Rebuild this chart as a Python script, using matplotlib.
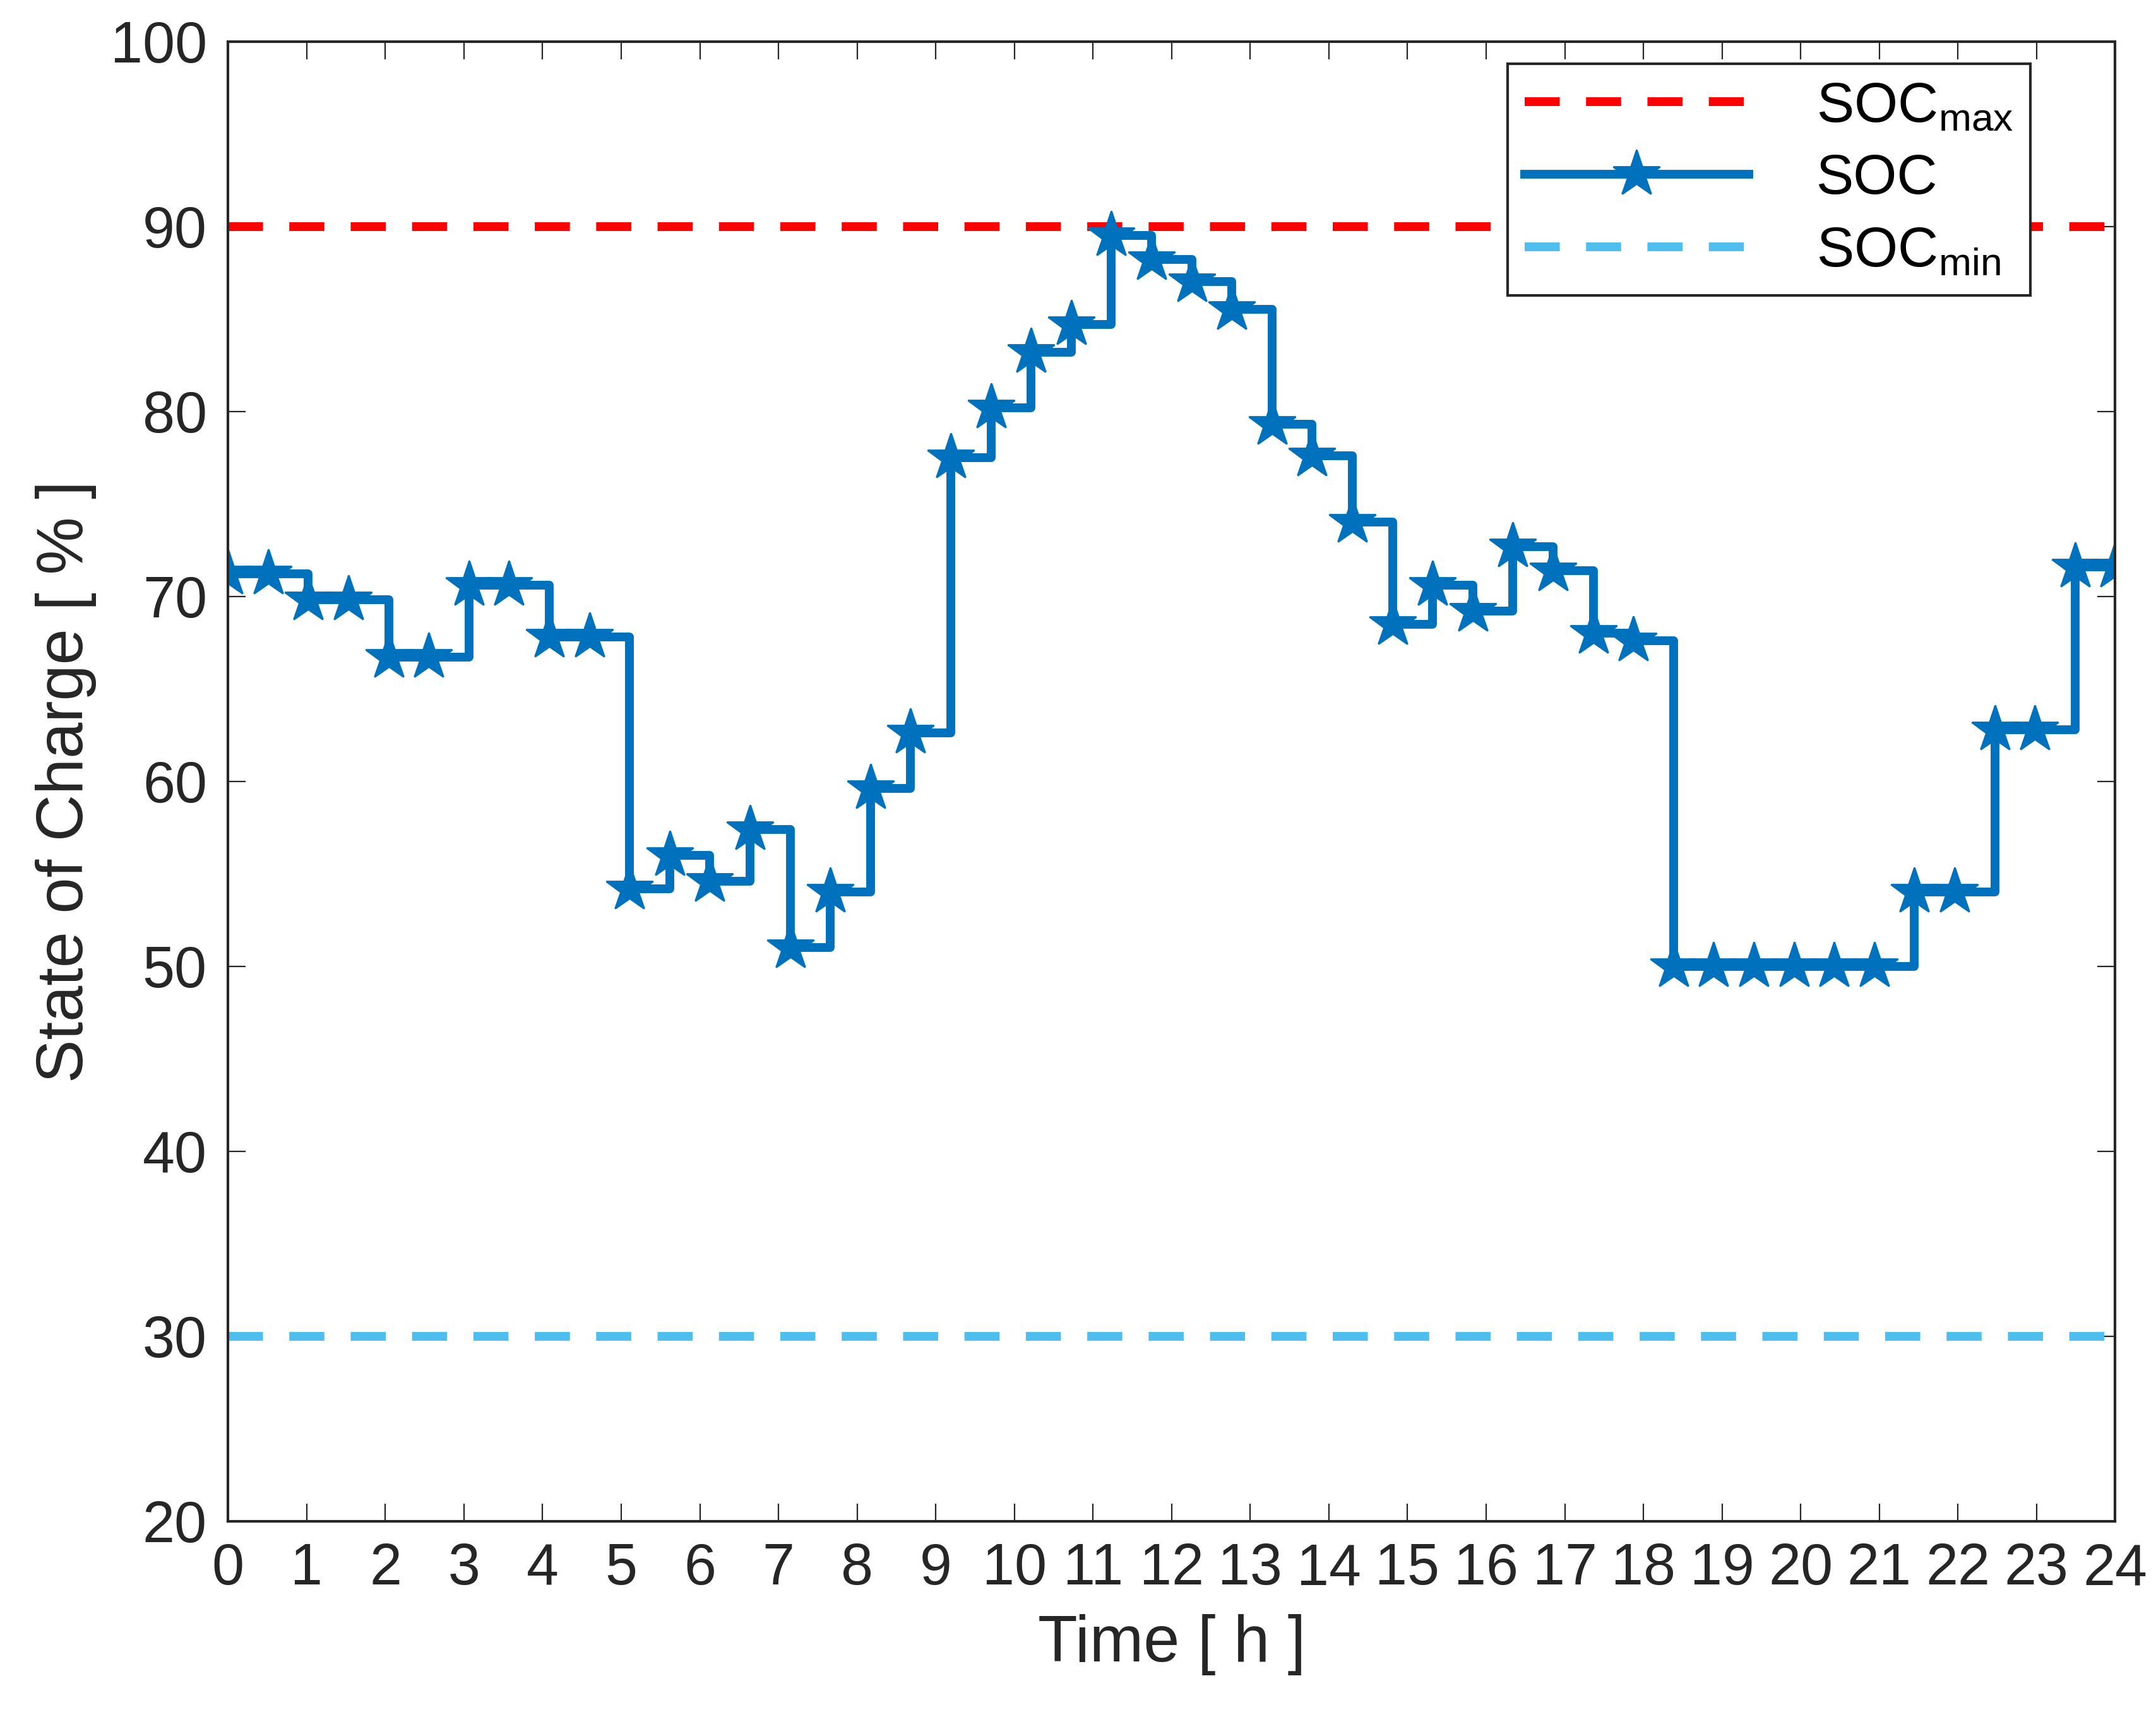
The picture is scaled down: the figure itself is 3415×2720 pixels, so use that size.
import numpy as np
import matplotlib.pyplot as plt

plt.rcParams['font.family'] = ['Liberation Sans', 'DejaVu Sans']

t = np.linspace(0, 24, 48)
soc = [71.2, 71.2, 69.8, 69.8, 66.7, 66.7, 70.6, 70.6, 67.8, 67.8,
       54.2, 56.0, 54.6, 57.4, 51.0, 54.0, 59.6, 62.6, 77.5, 80.2,
       83.2, 84.7, 89.5, 88.2, 87.0, 85.5, 79.3, 77.6, 74.0, 68.5,
       70.6, 69.2, 72.7, 71.4, 68.0, 67.6, 50.0, 50.0, 50.0, 50.0,
       50.0, 50.0, 54.0, 54.0, 62.8, 62.8, 71.6, 71.6]
soc_max = 90
soc_min = 30

fig = plt.figure(figsize=(17.08, 13.6), dpi=200)
ax = fig.add_axes([165/1560, 1 - 1103/1245, (1530-165)/1560, (1103-30)/1245])

ax.plot([0, 24], [soc_max, soc_max], '--', color='#FF0000', lw=5, dashes=(4, 3), label='SOC$_{\\mathregular{max}}$')
ax.step(t, soc, where='post', color='#0072BD', lw=5, marker='*', markersize=28, label='SOC')
ax.plot([0, 24], [soc_min, soc_min], '--', color='#4DBEEE', lw=5, dashes=(4, 3), label='SOC$_{\\mathregular{min}}$')

ax.set_xlim(0, 24)
ax.set_ylim(20, 100)
ax.set_xticks(range(0, 25))
ax.set_yticks(range(20, 101, 10))
ax.tick_params(labelsize=33, direction='in', length=10, top=True, right=True,
               color='#262626', labelcolor='#262626', pad=12)
for s in ax.spines.values():
    s.set_color('#262626')
    s.set_linewidth(1.5)
ax.set_xlabel('Time [ h ]', fontsize=37, color='#262626', labelpad=10)
ax.set_ylabel('State of Charge [ % ]', fontsize=37, color='#262626', labelpad=8)

leg = ax.legend(loc='upper right', bbox_to_anchor=(0.955, 0.985), fontsize=32, fancybox=False,
                edgecolor='#262626', framealpha=1, handlelength=4, handletextpad=1.2,
                borderpad=0.3, labelspacing=0.35, borderaxespad=0)
leg.get_frame().set_linewidth(1.5)

fig.savefig('out.png', dpi=200)
